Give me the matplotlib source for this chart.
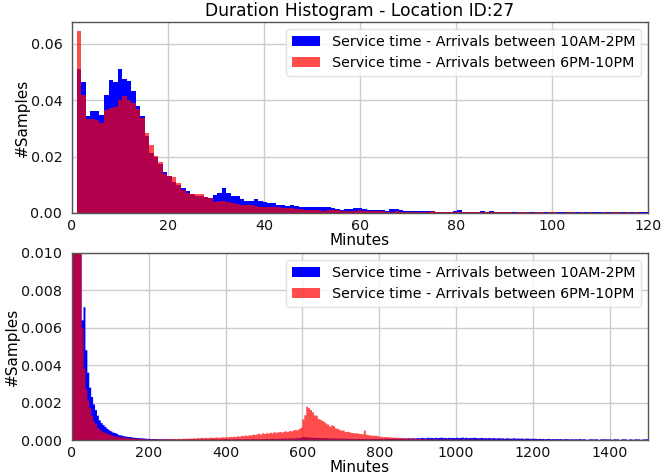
import numpy as np
import matplotlib
matplotlib.use("Agg")
import matplotlib.pyplot as plt

# ---------------- data ----------------
title = "Duration Histogram - Location ID:27"
label_blue = "Service time - Arrivals between 10AM-2PM"
label_red = "Service time - Arrivals between 6PM-10PM"

# top panel: fine bins (~0.944 min wide, starting at 1 min), density values
top_bin_start = 1.0
top_bin_width = 0.944
top_blue = [
    .0512, .0465, .0343, .0363, .0363, .0348, .0418, .0470, .0465, .0512,
    .0474, .0467, .0434, .0380, .0345, .0272, .0212, .0200, .0175, .0144,
    .0132, .0111, .0099, .0090, .0079, .0066, .0062, .0060, .0057, .0054,
    .0064, .0070, .0087, .0071, .0062, .0061, .0049, .0043, .0042, .0048,
    .0044, .0038, .0035, .0034, .0028, .0029, .0026, .0029, .0026, .0022,
    .0020, .0021, .0022, .0020, .0022, .0021, .0017, .0015, .0012, .0013,
    .0013, .0019, .0018, .0014, .0012, .0011, .0009, .0009, .0008, .0014,
    .0015, .0010, .0008, .0007, .0008, .0007, .0006, .0006, .0006, .0005,
    .0005, .0005, .0004, .0007, .0009, .0004, .0005, .0004, .0005, .0006,
    .0005, .0006, .0004, .0005, .0004, .0004, .0004, .0003, .0004, .0004,
    .0003, .0004, .0004, .0003, .0004, .0003, .0004, .0003, .0003, .0004,
    .0003, .0003, .0003, .0004, .0003, .0003, .0003, .0003, .0003, .0004,
    .0003, .0003, .0003, .0004, .0003, .0003, .0003,
]
top_red = [
    .0645, .0417, .0335, .0332, .0330, .0320, .0366, .0373, .0376, .0402,
    .0415, .0400, .0390, .0367, .0338, .0285, .0242, .0202, .0180, .0140,
    .0132, .0127, .0107, .0081, .0070, .0066, .0067, .0066, .0057, .0054,
    .0040, .0041, .0042, .0038, .0035, .0032, .0030, .0028, .0027, .0024,
    .0022, .0022, .0021, .0020, .0020, .0019, .0018, .0016, .0015, .0015,
    .0011, .0009, .0010, .0009, .0008, .0010, .0011, .0009, .0008, .0008,
    .0007, .0008, .0009, .0007, .0007, .0006, .0006, .0007, .0005, .0005,
    .0006, .0005, .0004, .0005, .0004, .0004, .0004, .0003, .0008, .0004,
    .0003, .0003, .0003, .0003, .0004, .0003, .0002, .0003, .0003, .0002,
    .0003, .0002, .0002, .0003, .0002, .0002, .0001, .0002, .0002, .0002,
    .0001, .0002, .0002, .0001, .0002, .0002, .0001, .0001, .0002, .0002,
    .0001, .0002, .0001, .0002, .0001, .0001, .0002, .0001, .0004, .0002,
    .0001, .0002, .0001, .0002, .0001, .0001, .0001,
]

# bottom panel: 5-minute bins from 0 to 1500, density values in units of 1e-4
bottom_bin_width = 5
bottom_scale = 1e-4
bottom_blue_0_500 = [
    450, 450, 470, 290, 125, 64, 71, 48, 36, 28, 23, 19, 16, 13, 10.5, 9, 8, 7, 6, 5.2,
    4.6, 4.0, 3.7, 3.3, 2.6, 2.5, 2.2, 1.9, 1.8, 1.6, 1.6, 1.3, 1.2, 1.1, 1.0, 0.9, 0.9, 0.8, 0.7, 0.6,
    0.6, 0.5, 0.5, 0.5, 0.4, 0.4, 0.4, 0.3, 0.4, 0.3, 0.3, 0.4, 0.3, 0.3, 0.2, 0.3, 0.3, 0.2, 0.3, 0.3,
    0.3, 0.2, 0.4, 0.3, 0.2, 0.3, 0.3, 0.4, 0.2, 0.3, 0.3, 0.2, 0.3, 0.4, 0.3, 0.3, 0.2, 0.3, 0.3, 0.4,
    0.3, 0.4, 0.3, 0.3, 0.4, 0.3, 0.5, 0.4, 0.3, 0.4, 0.4, 0.5, 0.3, 0.4, 0.5, 0.4, 0.4, 0.5, 0.4, 0.5,
]
bottom_blue_500_1000 = [
    0.5, 0.6, 0.5, 0.6, 0.7, 0.5, 0.6, 0.7, 0.6, 0.8, 0.7, 0.8, 0.7, 0.9, 0.8, 0.8, 1.0, 0.9, 1.1, 1.0,
    1.6, 1.4, 1.5, 1.2, 1.3, 1.2, 1.1, 1.2, 1.0, 1.1, 1.0, 0.9, 1.0, 0.9, 0.8, 0.9, 0.8, 0.8, 0.7, 0.8,
    0.7, 0.8, 0.6, 0.7, 0.6, 0.7, 0.6, 0.5, 0.6, 0.6, 0.5, 0.6, 0.5, 0.6, 0.5, 0.6, 0.5, 0.6, 0.6, 0.5,
    0.6, 0.5, 0.6, 0.7, 0.6, 0.7, 0.6, 0.7, 0.8, 0.7, 0.6, 0.8, 0.7, 0.8, 0.7, 0.9, 0.8, 0.9, 0.8, 0.9,
    1.0, 0.9, 1.1, 1.0, 0.9, 1.2, 1.0, 1.1, 0.9, 1.2, 1.0, 1.1, 1.3, 1.0, 1.1, 0.9, 1.2, 1.0, 1.1, 1.0,
]
bottom_blue_1000_1500 = [
    1.2, 1.0, 1.1, 1.3, 1.0, 1.2, 0.9, 1.1, 1.0, 1.2, 1.1, 0.9, 1.0, 1.1, 0.9, 1.0, 0.9, 1.1, 0.8, 1.0,
    0.9, 0.8, 1.0, 0.8, 0.9, 0.7, 0.9, 0.8, 0.7, 0.8, 0.9, 0.7, 0.8, 0.7, 0.8, 0.6, 0.7, 0.8, 0.6, 0.7,
    0.6, 0.7, 0.5, 0.6, 0.5, 0.6, 0.4, 0.5, 0.6, 0.4, 0.5, 0.4, 0.5, 0.4, 0.5, 0.3, 0.4, 0.5, 0.4, 0.3,
    0.4, 0.3, 0.4, 0.3, 0.5, 0.3, 0.4, 0.3, 0.0, 0.3, 0.4, 0.3, 0.3, 0.4, 0.0, 0.3, 0.3, 0.4, 0.3, 0.3,
    0.3, 0.0, 0.4, 0.3, 0.3, 0.0, 0.3, 0.4, 0.3, 0.0, 0.3, 0.3, 0.0, 0.4, 0.3, 0.3, 0.0, 0.3, 0.3, 0.4,
]
bottom_red_0_500 = [
    410, 375, 390, 255, 118, 60, 38, 27, 21, 17, 13, 10, 8.5, 6.5, 5.5, 4.8, 4.2, 3.7, 3.4, 3.0,
    2.6, 2.2, 1.9, 1.7, 1.5, 1.4, 1.3, 1.2, 1.1, 1.0, 0.9, 0.8, 0.7, 0.7, 0.6, 0.5, 0.5, 0.4, 0.4, 0.3,
    0.3, 0.3, 0.2, 0.3, 0.2, 0.3, 0.3, 0.4, 0.3, 0.4, 0.4, 0.5, 0.4, 0.5, 0.5, 0.6, 0.5, 0.6, 0.7, 0.6,
    0.7, 0.8, 0.7, 0.9, 0.8, 1.0, 0.9, 1.1, 1.0, 1.2, 1.0, 1.1, 1.3, 1.1, 1.2, 1.4, 1.2, 1.3, 1.5, 1.3,
    1.5, 1.4, 1.7, 1.5, 1.8, 1.6, 2.0, 1.8, 2.2, 2.0, 2.4, 2.1, 2.6, 2.4, 2.9, 2.6, 3.0, 3.3, 2.9, 3.6,
]
bottom_red_500_1000 = [
    3.2, 3.7, 3.4, 3.9, 3.6, 4.2, 3.8, 4.1, 4.3, 4.0, 4.4, 4.6, 4.3, 4.8, 4.6, 5.1, 5.4, 5.2, 5.9, 6.6,
    11.0, 13.2, 17.8, 17.0, 16.0, 14.8, 13.2, 13.0, 11.2, 10.8, 10.3, 9.6, 8.8, 8.2, 7.2, 7.8, 7.4, 6.2, 6.0, 5.4,
    5.0, 5.1, 4.3, 4.4, 4.2, 3.8, 3.7, 3.5, 3.6, 3.3, 3.2, 3.1, 5.0, 2.8, 2.6, 2.4, 2.3, 2.2, 2.3, 2.0,
    1.7, 1.6, 1.5, 1.6, 1.5, 1.4, 1.3, 1.2, 1.2, 1.1, 1.2, 1.0, 1.0, 0.9, 0.9, 0.8, 0.7, 0.7, 0.6, 0.6,
    0.5, 0.5, 0.4, 0.4, 0.4, 0.3, 0.4, 0.3, 0.3, 0.4, 0.3, 0.3, 0.2, 0.3, 0.3, 0.2, 0.3, 0.2, 0.3, 0.2,
]
bottom_red_1000_1500 = [
    0.2, 0.3, 0.2, 0.2, 0.3, 0.2, 0.2, 0.2, 0.3, 0.2, 0.2, 0.1, 0.2, 0.2, 0.1, 0.2, 0.2, 0.1, 0.2, 0.1,
    0.2, 0.1, 0.1, 0.2, 0.1, 0.1, 0.2, 0.1, 0.1, 0.1, 0.2, 0.1, 0.1, 0.1, 0.1, 0.2, 0.1, 0.1, 0.1, 0.1,
    0.1, 0.1, 0.1, 0.0, 0.1, 0.1, 0.1, 0.0, 0.1, 0.1, 0.0, 0.1, 0.1, 0.0, 0.1, 0.1, 0.0, 0.1, 0.0, 0.1,
    0.1, 0.0, 0.1, 0.0, 0.1, 0.0, 0.1, 0.0, 0.0, 0.1, 0.0, 0.1, 0.0, 0.0, 0.1, 0.0, 0.0, 0.1, 0.0, 0.0,
    0.0, 0.1, 0.0, 0.0, 0.1, 0.0, 0.0, 0.0, 0.1, 0.0, 0.0, 0.0, 0.1, 0.0, 0.0, 0.0, 0.0, 0.1, 0.0, 0.0,
]

# ---------------- build ----------------
top_blue = np.array(top_blue)
top_red = np.array(top_red)
top_edges = top_bin_start + top_bin_width * np.arange(len(top_blue) + 1)

bottom_blue = np.array(bottom_blue_0_500 + bottom_blue_500_1000 + bottom_blue_1000_1500) * bottom_scale
bottom_red = np.array(bottom_red_0_500 + bottom_red_500_1000 + bottom_red_1000_1500) * bottom_scale
bottom_edges = bottom_bin_width * np.arange(len(bottom_blue) + 1)

plt.rcParams['font.family'] = ['DejaVu Sans']
fig = plt.figure(figsize=(6.7, 4.75), dpi=100)
ax1 = fig.add_axes([72 / 670, 1 - 213 / 475, 576 / 670, 191 / 475])
ax2 = fig.add_axes([72 / 670, 1 - 440 / 475, 576 / 670, 187 / 475])

tick_fs = 10.3
label_fs = 11
legend_fs = 10.3


def draw(ax, edges, blue, red, ylabel_right_px):
    ax.hist(edges[:-1], bins=edges, weights=blue, histtype='stepfilled',
            color=(0, 0, 1), linewidth=0, label=label_blue)
    ax.hist(edges[:-1], bins=edges, weights=red, histtype='stepfilled',
            color=(1, 0, 0), alpha=0.7, linewidth=0, label=label_red)
    ax.set_axisbelow(True)
    ax.grid(True, color='#cccccc', linewidth=1.0)
    for s in ax.spines.values():
        s.set_color('#555555')
        s.set_linewidth(1.0)
    ax.tick_params(length=0, labelsize=tick_fs, colors='#111111')
    ax.tick_params(axis='x', pad=4)
    ax.tick_params(axis='y', pad=7)
    ax.set_xlabel("Minutes", fontsize=label_fs, labelpad=0)
    ax.set_ylabel("#Samples", fontsize=label_fs)
    ax.yaxis.set_label_coords((ylabel_right_px - 72) / 576, 0.5)
    ax.legend(loc='upper right', fontsize=legend_fs, framealpha=0.8,
              edgecolor='#dddddd', fancybox=True)


draw(ax1, top_edges, top_blue, top_red, 30)
ax1.set_xlim(0, 120)
ax1.set_ylim(0, max(top_red.max(), top_blue.max()) * 1.05)
ax1.set_title(title, fontsize=12.3, pad=4)

draw(ax2, bottom_edges, bottom_blue, bottom_red, 20)
ax2.set_xlim(0, 1500)
ax2.set_ylim(0, 0.010)
ax2.set_yticks([0, 0.002, 0.004, 0.006, 0.008, 0.010])
ax2.set_yticklabels(["0.000", "0.002", "0.004", "0.006", "0.008", "0.010"])

fig.savefig("out.png", dpi=100)
